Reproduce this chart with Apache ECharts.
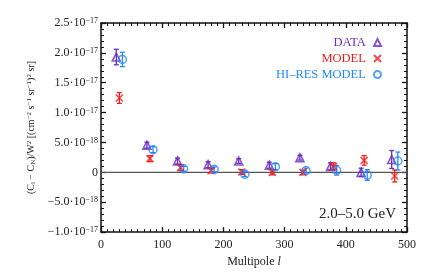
<!DOCTYPE html>
<html><head><meta charset="utf-8">
<script src="https://cdn.jsdelivr.net/npm/echarts@6/dist/echarts.min.js"></script>
<style>html,body{margin:0;padding:0;background:#fff}#c{width:436px;height:273px}</style>
</head><body><div id="c"></div>
<script>
// values in units of 1e-17 (cm^-2 s^-1 sr^-1)^2 sr
var dataL   = [25, 75, 125, 175, 225, 275, 325, 375, 425, 475];
var dataVal = [1.93, 0.455, 0.19, 0.13, 0.19, 0.12, 0.245, 0.10, 0.00, 0.215];
var dataErr = [0.13, 0.05, 0.05, 0.05, 0.04, 0.05, 0.04, 0.06, 0.07, 0.15];
var modelL   = [30, 80, 130, 180, 230, 280, 330, 380, 430, 480];
var modelVal = [1.245, 0.23, 0.08, 0.03, 0.005, 0.0, 0.0, 0.10, 0.20, -0.06];
var modelErr = [0.09, 0.05, 0.05, 0.04, 0.04, 0.04, 0.04, 0.06, 0.08, 0.10];
var hiresL   = [35, 85, 135, 185, 235, 285, 335, 385, 435, 485];
var hiresVal = [1.89, 0.38, 0.06, 0.05, -0.03, 0.095, 0.03, 0.035, -0.045, 0.19];
var hiresErr = [0.12, 0.05, 0.04, 0.04, 0.04, 0.05, 0.04, 0.08, 0.09, 0.15];
var yTickLabels = {'2.5':['2.5','−17'],'2':['2.0','−17'],'1.5':['1.5','−17'],'1':['1.0','−17'],
  '0.5':['5.0','−18'],'0':['0',''],'-0.5':['−5.0','−18'],'-1':['−1.0','−17']};

var C_DATA = '#6b2bbd', C_MODEL = '#f21c1c', C_HIRES = '#2288ff';
var FONT = 'Liberation Serif';

function pairs(xs, ys){ return xs.map(function(x,i){return [x, ys[i]];}); }
function errPairs(xs, ys, es){ return xs.map(function(x,i){return [x, ys[i]-es[i], ys[i]+es[i]];}); }
function errSeries(name, xs, ys, es, color){
  return {
    type:'custom', name:name, data: errPairs(xs,ys,es), z:3, silent:true,
    encode:{x:0, y:[1,2]},
    renderItem:function(params, api){
      var lo = api.coord([api.value(0), api.value(1)]);
      var hi = api.coord([api.value(0), api.value(2)]);
      var w = 2.5;
      return {type:'group', children:[
        {type:'line', shape:{x1:lo[0],y1:lo[1],x2:hi[0],y2:hi[1]}, style:{stroke:color, lineWidth:1.3}},
        {type:'line', shape:{x1:lo[0]-w,y1:lo[1],x2:lo[0]+w,y2:lo[1]}, style:{stroke:color, lineWidth:1.3}},
        {type:'line', shape:{x1:hi[0]-w,y1:hi[1],x2:hi[0]+w,y2:hi[1]}, style:{stroke:color, lineWidth:1.3}}
      ]};
    }
  };
}
function legText(color){ return {fontFamily:FONT, fontSize:12.5, color:color}; }

var chart = echarts.init(document.getElementById('c'), null, {renderer:'canvas'});
var axisLine = {show:true, onZero:false, lineStyle:{color:'#111', width:1.5}};
var tickIn = {show:true, inside:true, length:5, lineStyle:{color:'#111', width:1.3}};
chart.setOption({
  animation:false,
  textStyle:{fontFamily:FONT},
  grid:{left:101, right:29, top:23, bottom:40},
  legend:{
    orient:'vertical', right:49, top:31, align:'right', itemGap:3, itemWidth:7, itemHeight:7,
    formatter:function(n){ return n + ' '; },
    textStyle:{fontFamily:FONT, fontSize:12.5},
    data:[
      {name:'DATA', textStyle:legText(C_DATA)},
      {name:'MODEL', textStyle:legText(C_MODEL)},
      {name:'HI–RES MODEL', textStyle:legText(C_HIRES)}
    ]
  },
  xAxis:[{
    type:'value', min:0, max:500, interval:100,
    name:'Multipole {i|l}', nameLocation:'middle', nameGap:21,
    nameTextStyle:{fontFamily:FONT, fontSize:12, color:'#222', rich:{i:{fontFamily:FONT, fontStyle:'italic', fontSize:12, color:'#222'}}},
    axisLine:axisLine, axisTick:tickIn, minorTick:{show:true, splitNumber:10, length:3, lineStyle:{color:'#111'}},
    splitLine:{show:false},
    axisLabel:{fontFamily:FONT, fontSize:12, color:'#222', margin:7}
  },{
    type:'value', min:0, max:500, interval:100, position:'top',
    axisLine:axisLine, axisTick:tickIn, minorTick:{show:true, splitNumber:10, length:3, lineStyle:{color:'#111'}},
    splitLine:{show:false}, axisLabel:{show:false}
  }],
  yAxis:[{
    type:'value', min:-1, max:2.5, interval:0.5,
    name:'{a|(C}{s|l}{a| − C}{s|N}{a|)/W}{p|2}{a| [(cm}{p|−2}{a| s}{p|−1}{a| sr}{p|−1}{a|)}{p|2}{a| sr]}',
    nameLocation:'middle', nameGap:64, nameRotate:90,
    nameTextStyle:{rich:{
      a:{fontFamily:FONT, fontSize:10, color:'#222'},
      s:{fontFamily:FONT, fontSize:7, color:'#222', verticalAlign:'bottom', padding:[4,0,0,0]},
      p:{fontFamily:FONT, fontSize:7, color:'#222', verticalAlign:'top'}
    }},
    axisLine:axisLine, axisTick:tickIn,
    minorTick:{show:true, splitNumber:5, length:3, lineStyle:{color:'#111'}},
    splitLine:{show:false},
    axisLabel:{margin:3, formatter:function(v){
      var k = String(Math.round(v*10)/10);
      var t = yTickLabels[k]; if(!t) return '';
      if(!t[1]) return '{m|' + t[0] + '}';
      return '{m|' + t[0] + '·10}{e|' + t[1] + '}';
    }, rich:{
      m:{fontFamily:FONT, fontSize:12, color:'#222'},
      e:{fontFamily:FONT, fontSize:8, color:'#222', verticalAlign:'top'}
    }}
  },{
    type:'value', min:-1, max:2.5, interval:0.5, position:'right',
    axisLine:axisLine, axisTick:tickIn,
    minorTick:{show:true, splitNumber:5, length:3, lineStyle:{color:'#111'}},
    splitLine:{show:false}, axisLabel:{show:false}
  }],
  graphic:[{
    type:'text', right:40, top:207,
    style:{text:'2.0–5.0 GeV', fontFamily:FONT, fontSize:15, fill:'#222'}
  }],
  series:[
    {type:'line', name:'zero', data:[[0,0],[500,0]], symbol:'none', silent:true,
     lineStyle:{color:'#555', width:1.3}, z:1},
    errSeries('DATA err', dataL, dataVal, dataErr, C_DATA),
    errSeries('MODEL err', modelL, modelVal, modelErr, C_MODEL),
    errSeries('HI–RES MODEL err', hiresL, hiresVal, hiresErr, C_HIRES),
    {type:'scatter', name:'DATA', data:pairs(dataL,dataVal), symbol:'triangle', symbolSize:8, z:4,
     itemStyle:{color:'rgba(0,0,0,0)', borderColor:C_DATA, borderWidth:1.6}},
    {type:'scatter', name:'MODEL', data:pairs(modelL,modelVal), symbol:'path://M0,0L10,10M10,0L0,10', symbolSize:7, z:4,
     itemStyle:{color:'rgba(0,0,0,0)', borderColor:C_MODEL, borderWidth:1.6}},
    {type:'scatter', name:'HI–RES MODEL', data:pairs(hiresL,hiresVal), symbol:'circle', symbolSize:8, z:4,
     itemStyle:{color:'rgba(0,0,0,0)', borderColor:C_HIRES, borderWidth:1.5}}
  ]
});
</script></body></html>
